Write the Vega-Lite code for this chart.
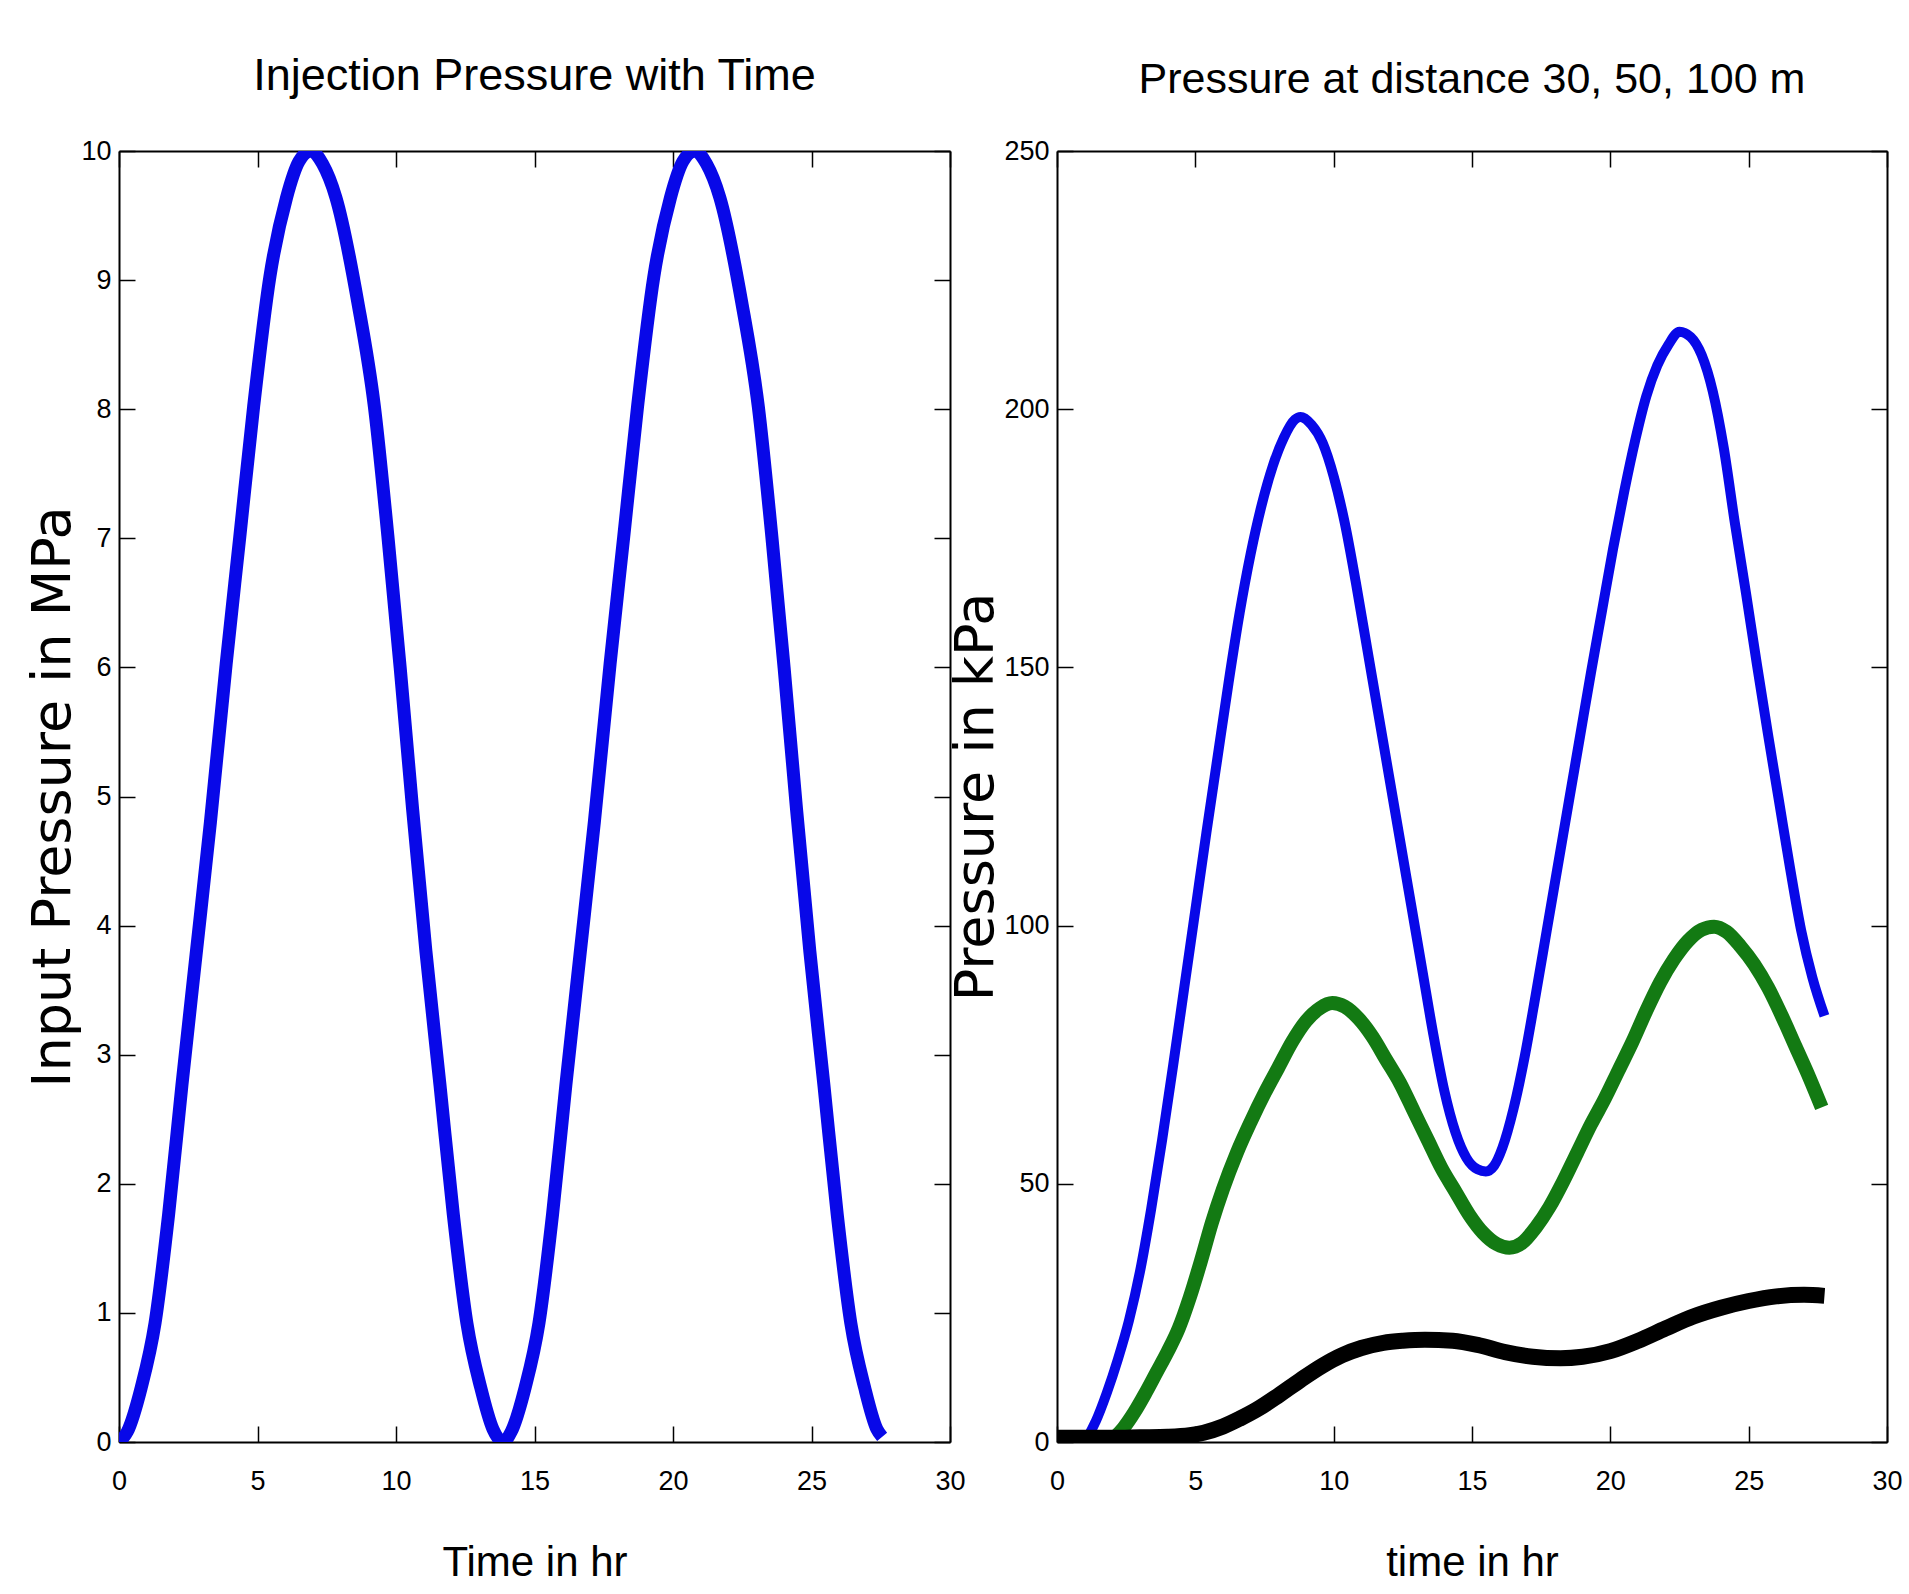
{
  "$schema": "https://vega.github.io/schema/vega-lite/v6.json",
  "background": "white",
  "padding": {"left": 26, "top": 54, "right": 8, "bottom": 4},
  "spacing": -17,
  "config": {
    "view": {"stroke": null},
    "axis": {
      "grid": false,
      "domainColor": "black",
      "domainWidth": 2,
      "tickColor": "black",
      "tickWidth": 1.5,
      "tickSize": -16,
      "labelFont": "Liberation Sans",
      "labelFontSize": 27,
      "labelColor": "black",
      "labelFlush": false,
      "labelOverlap": false,
      "titleColor": "black",
      "titleFontWeight": "normal"
    },
    "axisX": {"labelPadding": 42, "titleFont": "Liberation Sans", "titleFontSize": 42, "titlePadding": 48},
    "axisY": {"labelPadding": 24, "titleFont": "DejaVu Sans", "titleFontSize": 54, "titlePadding": 0},
    "title": {"font": "Liberation Sans", "fontSize": 45, "fontWeight": "normal", "color": "black", "frame": "group", "anchor": "middle", "baseline": "alphabetic"}
  },
  "datasets": {
    "inj": [
      {"t": 0, "p": 0}, {"t": 0.3, "p": 0.08}, {"t": 0.8, "p": 0.42}, {"t": 1.3, "p": 0.92}, {"t": 1.79, "p": 1.76}, {"t": 2.27, "p": 2.76}, {"t": 2.78, "p": 3.77}, {"t": 3.3, "p": 4.8}, {"t": 3.87, "p": 6.03}, {"t": 4.36, "p": 7.01}, {"t": 4.86, "p": 8.02}, {"t": 5.45, "p": 9.03}, {"t": 6.05, "p": 9.64}, {"t": 6.5, "p": 9.92}, {"t": 6.93, "p": 10}, {"t": 7.35, "p": 9.9}, {"t": 7.83, "p": 9.64}, {"t": 8.62, "p": 8.83}, {"t": 9.22, "p": 8.02}, {"t": 9.71, "p": 7.01}, {"t": 10.15, "p": 6.0}, {"t": 10.6, "p": 4.9}, {"t": 11.08, "p": 3.8}, {"t": 11.59, "p": 2.76}, {"t": 12.07, "p": 1.76}, {"t": 12.56, "p": 0.92}, {"t": 13.06, "p": 0.42}, {"t": 13.5, "p": 0.1}, {"t": 13.86, "p": 0},
      {"t": 14.16, "p": 0.08}, {"t": 14.66, "p": 0.42}, {"t": 15.16, "p": 0.92}, {"t": 15.65, "p": 1.76}, {"t": 16.13, "p": 2.76}, {"t": 16.64, "p": 3.77}, {"t": 17.16, "p": 4.8}, {"t": 17.73, "p": 6.03}, {"t": 18.22, "p": 7.01}, {"t": 18.72, "p": 8.02}, {"t": 19.31, "p": 9.03}, {"t": 19.91, "p": 9.64}, {"t": 20.36, "p": 9.92}, {"t": 20.79, "p": 10}, {"t": 21.21, "p": 9.9}, {"t": 21.69, "p": 9.64}, {"t": 22.48, "p": 8.83}, {"t": 23.08, "p": 8.02}, {"t": 23.57, "p": 7.01}, {"t": 24.01, "p": 6.0}, {"t": 24.46, "p": 4.9}, {"t": 24.94, "p": 3.8}, {"t": 25.45, "p": 2.76}, {"t": 25.93, "p": 1.76}, {"t": 26.42, "p": 0.92}, {"t": 26.92, "p": 0.42}, {"t": 27.36, "p": 0.1}, {"t": 27.55, "p": 0.04}
    ],
    "d30": [
      {"t": 0, "p": 0}, {"t": 0.6, "p": 0}, {"t": 1.0, "p": 0.5}, {"t": 1.4, "p": 4}, {"t": 1.8, "p": 9.5}, {"t": 2.2, "p": 16}, {"t": 2.6, "p": 23.5}, {"t": 3.0, "p": 33}, {"t": 3.4, "p": 45}, {"t": 3.8, "p": 58.5}, {"t": 4.2, "p": 73}, {"t": 4.6, "p": 88}, {"t": 5.0, "p": 103}, {"t": 5.4, "p": 118}, {"t": 5.8, "p": 132.5}, {"t": 6.2, "p": 147}, {"t": 6.6, "p": 160.5}, {"t": 7.0, "p": 172}, {"t": 7.4, "p": 181.5}, {"t": 7.8, "p": 189}, {"t": 8.2, "p": 194.5}, {"t": 8.6, "p": 198}, {"t": 8.8, "p": 198.5}, {"t": 9.2, "p": 197}, {"t": 9.6, "p": 193.5}, {"t": 10.0, "p": 187}, {"t": 10.4, "p": 178}, {"t": 10.8, "p": 166.5}, {"t": 11.2, "p": 154}, {"t": 11.6, "p": 141.5}, {"t": 12.0, "p": 129}, {"t": 12.4, "p": 116.5}, {"t": 12.8, "p": 104}, {"t": 13.2, "p": 91.5}, {"t": 13.6, "p": 79}, {"t": 14.0, "p": 68}, {"t": 14.4, "p": 60}, {"t": 14.8, "p": 55}, {"t": 15.2, "p": 52.8}, {"t": 15.5, "p": 52.4}, {"t": 15.8, "p": 53.5}, {"t": 16.1, "p": 57}, {"t": 16.5, "p": 64.5}, {"t": 16.9, "p": 74.5}, {"t": 17.3, "p": 86.5}, {"t": 17.7, "p": 99}, {"t": 18.1, "p": 111.5}, {"t": 18.5, "p": 124}, {"t": 18.9, "p": 136.5}, {"t": 19.3, "p": 149}, {"t": 19.7, "p": 161}, {"t": 20.1, "p": 173}, {"t": 20.5, "p": 184}, {"t": 20.9, "p": 194}, {"t": 21.3, "p": 202.5}, {"t": 21.7, "p": 208.5}, {"t": 22.1, "p": 212.5}, {"t": 22.5, "p": 215}, {"t": 22.9, "p": 214}, {"t": 23.3, "p": 210.5}, {"t": 23.7, "p": 203.5}, {"t": 24.1, "p": 192.5}, {"t": 24.5, "p": 178}, {"t": 24.9, "p": 164.5}, {"t": 25.3, "p": 150.5}, {"t": 25.7, "p": 137}, {"t": 26.1, "p": 124}, {"t": 26.5, "p": 111}, {"t": 26.9, "p": 99}, {"t": 27.3, "p": 90}, {"t": 27.74, "p": 82.5}
    ],
    "d50": [
      {"t": 0, "p": 0}, {"t": 1.8, "p": 0}, {"t": 2.1, "p": 1}, {"t": 2.4, "p": 2.7}, {"t": 2.8, "p": 5.8}, {"t": 3.2, "p": 9.5}, {"t": 3.6, "p": 13.5}, {"t": 4.0, "p": 17.5}, {"t": 4.4, "p": 22}, {"t": 4.8, "p": 28}, {"t": 5.2, "p": 35}, {"t": 5.6, "p": 42.5}, {"t": 6.0, "p": 49}, {"t": 6.5, "p": 56}, {"t": 7.0, "p": 62}, {"t": 7.5, "p": 67.5}, {"t": 8.0, "p": 72.5}, {"t": 8.5, "p": 77.5}, {"t": 9.0, "p": 81.5}, {"t": 9.5, "p": 84}, {"t": 9.95, "p": 85}, {"t": 10.4, "p": 84.3}, {"t": 10.9, "p": 82}, {"t": 11.4, "p": 78.5}, {"t": 11.9, "p": 74}, {"t": 12.4, "p": 69.5}, {"t": 12.9, "p": 64}, {"t": 13.4, "p": 58.5}, {"t": 13.9, "p": 53}, {"t": 14.4, "p": 48.5}, {"t": 14.9, "p": 44}, {"t": 15.4, "p": 40.5}, {"t": 15.9, "p": 38.3}, {"t": 16.35, "p": 37.6}, {"t": 16.8, "p": 38.5}, {"t": 17.3, "p": 41.5}, {"t": 17.8, "p": 45.5}, {"t": 18.3, "p": 50.5}, {"t": 18.8, "p": 56}, {"t": 19.3, "p": 61.5}, {"t": 19.8, "p": 66.5}, {"t": 20.3, "p": 72}, {"t": 20.8, "p": 77.5}, {"t": 21.3, "p": 83.5}, {"t": 21.8, "p": 89}, {"t": 22.3, "p": 93.5}, {"t": 22.8, "p": 97}, {"t": 23.3, "p": 99.2}, {"t": 23.75, "p": 99.8}, {"t": 24.2, "p": 98.8}, {"t": 24.7, "p": 96}, {"t": 25.2, "p": 92.5}, {"t": 25.7, "p": 88}, {"t": 26.2, "p": 82.5}, {"t": 26.7, "p": 76.5}, {"t": 27.2, "p": 70.5}, {"t": 27.64, "p": 64.8}
    ],
    "d100": [
      {"t": 0, "p": 0.8}, {"t": 2, "p": 0.8}, {"t": 3, "p": 0.9}, {"t": 4, "p": 1.0}, {"t": 4.8, "p": 1.3}, {"t": 5.3, "p": 1.8}, {"t": 6.0, "p": 3}, {"t": 6.6, "p": 4.5}, {"t": 7.23, "p": 6.3}, {"t": 8.0, "p": 9}, {"t": 8.8, "p": 12}, {"t": 9.6, "p": 14.8}, {"t": 10.3, "p": 16.8}, {"t": 11.0, "p": 18.2}, {"t": 11.8, "p": 19.2}, {"t": 12.5, "p": 19.6}, {"t": 13.3, "p": 19.8}, {"t": 14.3, "p": 19.6}, {"t": 15.2, "p": 18.8}, {"t": 16.2, "p": 17.4}, {"t": 17.2, "p": 16.5}, {"t": 18.2, "p": 16.2}, {"t": 19.0, "p": 16.5}, {"t": 20.0, "p": 17.6}, {"t": 21.0, "p": 19.6}, {"t": 22.0, "p": 22}, {"t": 23.0, "p": 24.3}, {"t": 24.0, "p": 26}, {"t": 25.0, "p": 27.3}, {"t": 26.0, "p": 28.2}, {"t": 27.0, "p": 28.5}, {"t": 27.74, "p": 28.3}
    ]
  },
  "hconcat": [
    {
      "width": 831,
      "height": 1291,
      "title": {"text": "Injection Pressure with Time", "offset": 38, "fontSize": 45},
      "data": {"name": "inj"},
      "layer": [
        {
          "mark": {"type": "line", "color": "#0808e8", "strokeWidth": 13, "interpolate": "monotone", "clip": true},
          "encoding": {
            "x": {"field": "t", "type": "quantitative", "scale": {"domain": [0, 30], "nice": false}, "axis": {"orient": "bottom", "values": [0, 5, 10, 15, 20, 25, 30], "title": "Time in hr"}},
            "y": {"field": "p", "type": "quantitative", "scale": {"domain": [0, 10], "nice": false}, "axis": {"orient": "left", "values": [0, 1, 2, 3, 4, 5, 6, 7, 8, 9, 10], "title": "Input Pressure in MPa"}}
          }
        },
        {
          "mark": {"type": "line", "opacity": 0},
          "encoding": {
            "x": {"field": "t", "type": "quantitative", "scale": {"domain": [0, 30], "nice": false}, "axis": {"orient": "top", "values": [0, 5, 10, 15, 20, 25, 30], "labels": false, "title": null}},
            "y": {"field": "p", "type": "quantitative", "scale": {"domain": [0, 10], "nice": false}, "axis": {"orient": "right", "values": [0, 1, 2, 3, 4, 5, 6, 7, 8, 9, 10], "labels": false, "title": null}}
          }
        }
      ],
      "resolve": {"scale": {"x": "independent", "y": "independent"}, "axis": {"x": "independent", "y": "independent"}}
    },
    {
      "width": 830,
      "height": 1291,
      "title": {"text": "Pressure at distance 30, 50, 100 m", "offset": 35, "fontSize": 43},
      "layer": [
        {
          "data": {"name": "d30"},
          "mark": {"type": "line", "color": "#0808e8", "strokeWidth": 10, "interpolate": "monotone", "clip": true},
          "encoding": {
            "x": {"field": "t", "type": "quantitative", "scale": {"domain": [0, 30], "nice": false}, "axis": {"orient": "bottom", "values": [0, 5, 10, 15, 20, 25, 30], "title": "time in hr"}},
            "y": {"field": "p", "type": "quantitative", "scale": {"domain": [0, 250], "nice": false}, "axis": {"orient": "left", "values": [0, 50, 100, 150, 200, 250], "title": "Pressure in kPa"}}
          }
        },
        {
          "data": {"name": "d50"},
          "mark": {"type": "line", "color": "#137a13", "strokeWidth": 14, "interpolate": "monotone", "clip": true},
          "encoding": {
            "x": {"field": "t", "type": "quantitative", "scale": {"domain": [0, 30], "nice": false}, "axis": null},
            "y": {"field": "p", "type": "quantitative", "scale": {"domain": [0, 250], "nice": false}, "axis": null}
          }
        },
        {
          "data": {"name": "d100"},
          "mark": {"type": "line", "color": "#000000", "strokeWidth": 16, "interpolate": "monotone", "clip": true},
          "encoding": {
            "x": {"field": "t", "type": "quantitative", "scale": {"domain": [0, 30], "nice": false}, "axis": null},
            "y": {"field": "p", "type": "quantitative", "scale": {"domain": [0, 250], "nice": false}, "axis": null}
          }
        },
        {
          "data": {"name": "d100"},
          "mark": {"type": "line", "opacity": 0},
          "encoding": {
            "x": {"field": "t", "type": "quantitative", "scale": {"domain": [0, 30], "nice": false}, "axis": {"orient": "top", "values": [0, 5, 10, 15, 20, 25, 30], "labels": false, "title": null}},
            "y": {"field": "p", "type": "quantitative", "scale": {"domain": [0, 250], "nice": false}, "axis": {"orient": "right", "values": [0, 50, 100, 150, 200, 250], "labels": false, "title": null}}
          }
        }
      ],
      "resolve": {"scale": {"x": "independent", "y": "independent"}, "axis": {"x": "independent", "y": "independent"}}
    }
  ]
}
